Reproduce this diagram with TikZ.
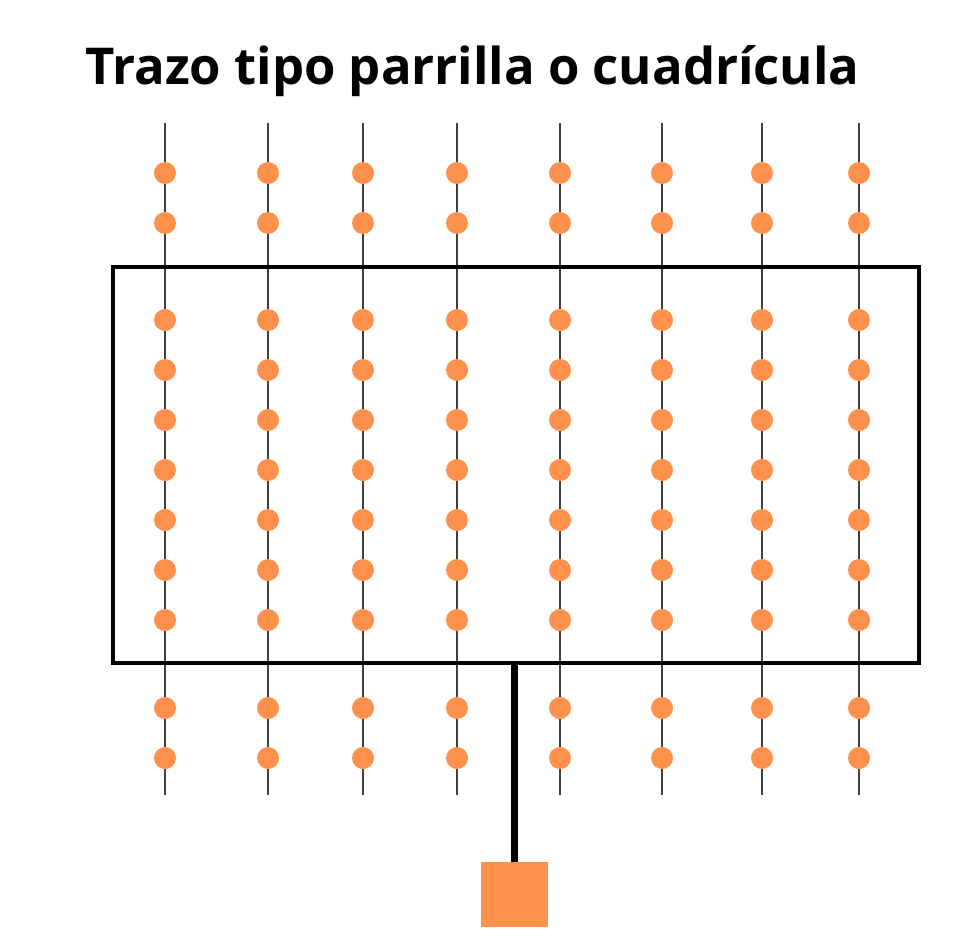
\documentclass[tikz,border=0pt]{standalone}
\usepackage{fontspec}
\setmainfont{Open Sans}
\definecolor{dotorange}{HTML}{FF914D}
\begin{document}
\begin{tikzpicture}[x=1pt,y=-1pt,
  gridline/.style={draw=black!75,line width=1.1pt},
  frame/.style={draw=black,line width=3.4pt},
  dot/.style={circle,fill=dotorange,inner sep=0pt,minimum size=22pt},
  feed/.style={draw=black,line width=7pt},
  source/.style={fill=dotorange,inner sep=0pt,minimum width=67pt,minimum height=65pt}]
\useasboundingbox (0,0) rectangle (976,950);
\node[anchor=base,font=\fontsize{50.8}{60}\selectfont\bfseries] (title) at (472.5,84) {Trazo tipo parrilla o cuadrícula};
% columns
\foreach \x [count=\i] in {165,268,363,457,560,662,762,859}{
  \coordinate (t\i) at (\x,123);
  \coordinate (b\i) at (\x,795);
  \draw[gridline] (t\i) -- (b\i);
}
% frame
\coordinate (r1) at (113,267);
\coordinate (r2) at (919,663);
\draw[frame] (r1) rectangle (r2);
% dots
\foreach \x [count=\i] in {165,268,363,457,560,662,762,859}{
  \foreach \y [count=\j] in {173,223,320,370,420,470,520,570,620,708,758}{
    \node[dot] (d\i-\j) at (\x,\y) {};
  }
}
% feed
\node[source] (src) at (514.5,894.5) {};
\coordinate (top) at (514.5,663);
\draw[feed] (top) -- (src.north);
\end{tikzpicture}
\end{document}
